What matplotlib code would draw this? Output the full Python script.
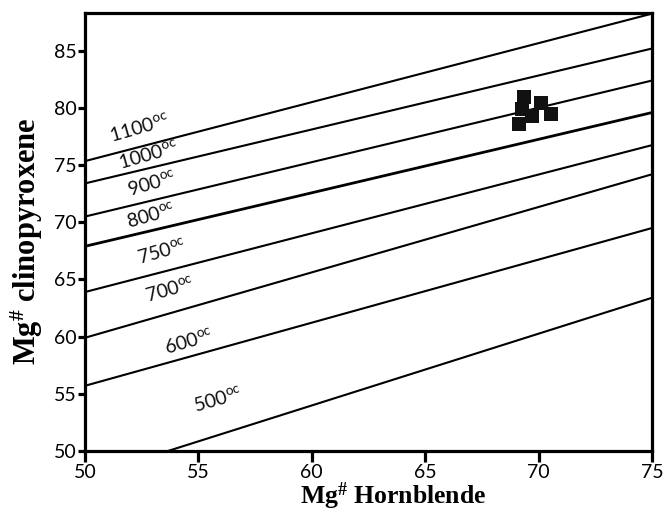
import numpy as np
import matplotlib
matplotlib.use("Agg")
import matplotlib.pyplot as plt

plt.rcParams['mathtext.default'] = 'regular'

# isotherm end points (Mg# Hbl, Mg# Cpx)
temps = ['1100', '1000', '900', '800', '750', '700', '600', '500']
line_x0 = [50, 50, 50, 50, 50, 50, 50, 53.66]
line_y0 = [75.35, 73.4, 70.5, 67.9, 63.9, 59.9, 55.7, 50.0]
line_x1 = [75, 75, 75, 75, 75, 75, 75, 75]
line_y1 = [88.25, 85.2, 82.4, 79.6, 76.75, 74.2, 69.5, 63.4]
line_w = [1.5, 1.5, 1.5, 2.0, 1.5, 1.5, 1.5, 1.5]

# label centres
lab_x = [52.4, 52.8, 52.95, 52.9, 53.4, 53.75, 54.6, 55.86]
lab_y = [78.3, 75.9, 73.4, 70.6, 67.5, 64.1, 59.6, 54.5]

# samples
hbl = [69.38, 70.13, 69.25, 70.53, 69.16, 69.69]
cpx = [81.0, 80.4, 79.9, 79.5, 78.6, 79.3]

fig = plt.figure(figsize=(6.68, 5.11), dpi=100)
ax = fig.add_axes([0.127, 0.1174, 0.849, 0.857])

for i in range(len(temps)):
    ax.plot([line_x0[i], line_x1[i]], [line_y0[i], line_y1[i]], color='black', lw=line_w[i], solid_capstyle='butt')
    ax.text(lab_x[i], lab_y[i], temps[i] + r'$^{oc}$', fontsize=14, family='Lato', color='#111111',
            rotation=16, ha='center', va='center', rotation_mode='anchor')

ax.plot(hbl, cpx, 's', color='#111111', markersize=10, markeredgewidth=0)

ax.set_xlim(50, 75)
ax.set_ylim(50, 88.3)
ax.set_xticks([50, 55, 60, 65, 70, 75])
ax.set_yticks([50, 55, 60, 65, 70, 75, 80, 85])
for s in ax.spines.values():
    s.set_linewidth(2.3)
ax.tick_params(direction='out', width=2.3, labelsize=14, pad=1)
ax.tick_params(axis='x', length=8, pad=1)
ax.tick_params(axis='y', length=5)
for t in ax.get_xticklabels() + ax.get_yticklabels():
    t.set_family('Lato')

ax.set_xlabel(r'Mg$^{\#}$ Hornblende', family='Liberation Serif', fontweight='bold', fontsize=18.5)
ax.set_ylabel(r'Mg$^{\#}$ clinopyroxene', family='Liberation Serif', fontweight='bold', fontsize=22)
ax.xaxis.set_label_coords(0.543, -0.067)
ax.yaxis.set_label_coords(-0.07, 0.479)

fig.savefig('out.png', dpi=100)
